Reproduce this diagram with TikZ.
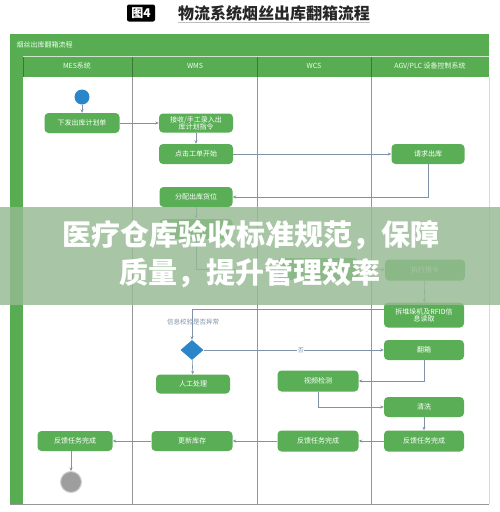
\documentclass[tikz,border=0pt]{standalone}
\usepackage{fontspec}
\setmainfont{Noto Sans CJK SC}
\usetikzlibrary{arrows.meta,shapes.geometric}
\definecolor{fg}{RGB}{88,172,82}
\definecolor{ng}{RGB}{90,175,86}
\definecolor{ln}{RGB}{128,146,168}
\definecolor{lanec}{RGB}{150,150,150}
\definecolor{dblue}{RGB}{42,134,200}
\definecolor{bannerc}{RGB}{150,186,146}
\begin{document}
\begin{tikzpicture}[x=1pt,y=-1pt,
  box/.style={fill=ng, rounded corners=4pt, minimum width=#1, minimum height=20pt,
    text=white, font=\fontsize{7}{8}\selectfont, align=center, inner sep=1pt},
  box/.default=75pt,
  arr/.style={draw=ln, line width=0.6pt, -{Stealth[length=3.5pt,width=3pt]}},
  plain/.style={draw=ln, line width=0.6pt},
  hdr/.style={text=white!92!green, font=\fontsize{7}{8}\selectfont},
  lanesep/.style={draw=lanec, line width=0.6pt}]
\useasboundingbox (0,0) rectangle (500,512);
\fill[white] (0,0) rectangle (500,512);

% title
\node[fill=black, rounded corners=2pt, text=white, font=\bfseries\fontsize{12}{12}\selectfont,
  minimum width=28pt, minimum height=17pt, inner sep=0pt] (tag) at (141,13) {图4};
\node[text=black!85, font=\bfseries\fontsize{16}{16}\selectfont, inner sep=0pt] (title) at (274,13) {物流系统烟丝出库翻箱流程};
\draw[black!25, line width=1pt] (title.south west) ++(0,2) coordinate (ulA) -- (title.south east |- ulA);

% frame
\fill[fg] (10,34) rectangle (489,56);
\fill[fg] (10,56) rectangle (23,504);
\fill[fg] (23,57) rectangle (489,77);
\draw[white!70!fg, line width=0.5pt] (23,56.5) -- (489,56.5);
\foreach \x in {23,132,257,371} \draw[black!30!fg, line width=0.5pt] (\x,57) -- (\x,77);
\foreach \x in {132,257,371} \draw[lanesep] (\x,77) -- (\x,504);
\draw[black!15, line width=0.5pt] (489,77) -- (489,504);
\draw[lanesep] (10,504) -- (489,504);
\node[hdr, anchor=west] (ptitle) at (13,45) {烟丝出库翻箱流程};
\node[hdr] (h1) at (77,66) {MES系统};
\node[hdr] (h2) at (195,66) {WMS};
\node[hdr] (h3) at (314,66) {WCS};
\node[hdr] (h4) at (430,66) {AGV/PLC 设备控制系统};

% nodes
\node[circle, fill=dblue, minimum size=15pt, inner sep=0pt] (start) at (82,97) {};
\node[box] (n1) at (82,123) {下发出库计划单};
\node[box=74pt, minimum height=19pt] (n2) at (196,123) {接收/手工录入出\\[-1pt]库计划指令};
\node[box=74pt] (n3) at (196,154) {点击工单开始};
\node[box=73pt] (n4) at (428,154) {请求出库};
\node[box=73pt] (n5) at (196,197) {分配出库货位};
\node[box=73pt] (n6) at (196,229) {};
\node[box=80pt, minimum height=22pt] (n7) at (318,269) {};
\node[box=80pt, minimum height=21pt] (n8) at (425,270) {执行指令};
\node[box=80pt, minimum height=25pt] (n9) at (424,315) {拆堆垛机及RFID信\\[-1pt]息读取};
\node[diamond, fill=dblue, minimum width=23pt, minimum height=20pt, inner sep=0pt] (dia) at (192,350) {};
\node[text=ln, font=\fontsize{6.5}{7}\selectfont] (q) at (193,322) {信息校验是否异常};
\node[box=74pt, minimum height=19pt] (n10) at (193,384) {人工处理};
\node[box=80pt] (n11) at (424,350) {翻箱};
\node[box=81pt, minimum height=21pt] (n12) at (318,381) {视频检测};
\node[box=80pt] (n13) at (424,407) {清洗};
\node[box=80pt, minimum height=21pt] (n14) at (424,441) {反馈任务完成};
\node[box=81pt, minimum height=21pt] (n15) at (318,441) {反馈任务完成};
\node[box=81pt] (n16) at (192,441) {更新库存};
\node[box=75pt] (n17) at (75,441) {反馈任务完成};
\node[circle, fill=black!38, draw=black!18, line width=1pt, minimum size=21pt, inner sep=0pt] (endc) at (71,482) {};

% connectors
\draw[arr] (start) -- (n1);
\draw[arr] (n1) -- (n2);
\draw[arr] (n2) -- (n3);
\draw[arr] (n3) -- (n4);
\draw[arr] (n4.south) |- (n5.east);
\draw[arr] (n5) -- (n6);
\draw[arr] (n6.south) |- (n7.west);
\draw[arr] (n7) -- (n8);
\draw[arr] (n8) -- (n9);
\draw[arr] (n9.172) -| (dia.north);
\draw[arr] (dia.east) -- node[pos=0.54, fill=white, inner sep=0.5pt, text=ln, font=\fontsize{6}{6}\selectfont] (no) {否} (n11.west);
\draw[arr] (dia) -- (n10);
\draw[arr] (n11.south) |- (n12.east);
\draw[arr] (n12.south) |- (n13.west);
\draw[arr] (n13) -- (n14);
\draw[arr] (n14) -- (n15);
\draw[arr] (n15) -- (n16);
\draw[arr] (n16) -- (n17);
\draw[arr] (endc.north |- n17.south) -- (endc.north);

% banner overlay
\fill[bannerc, opacity=0.82] (0,207) rectangle (500,305);
\node[text=white, font=\bfseries\fontsize{29}{29}\selectfont, inner sep=0pt] (b1) at (251,235) {医疗仓库验收标准规范，保障};
\node[text=white, font=\bfseries\fontsize{29}{29}\selectfont, inner sep=0pt] (b2) at (250,273) {质量，提升管理效率};
\end{tikzpicture}
\end{document}
